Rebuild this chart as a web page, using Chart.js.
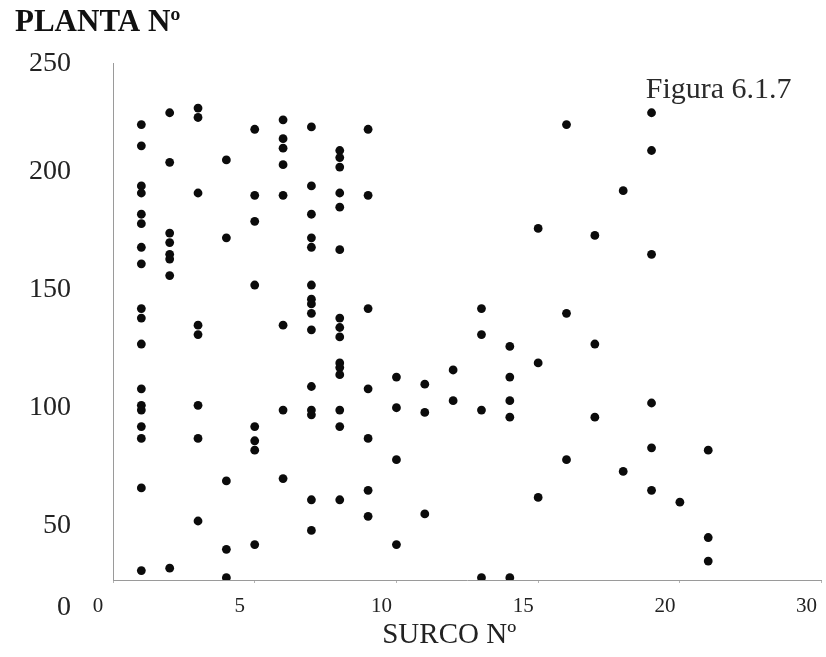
<!DOCTYPE html>
<html lang="es">
<head>
<meta charset="utf-8">
<title>Planta Nº por surco</title>
<script src="https://cdn.jsdelivr.net/npm/chart.js@4.4.1/dist/chart.umd.min.js"></script>
<style>
    html, body { margin: 0; padding: 0; background: #fff; }
    #wrap { width: 826px; height: 657px; position: relative; }
</style>
</head>
<body>
<div id="wrap"><canvas id="plantasChart"></canvas></div>
<script>
// surco number for each column of plants
const surcos = [1, 2, 3, 4, 5, 6, 7, 8, 9, 10, 11, 12, 13, 14, 15, 16, 17, 18, 19, 20, 21];

// plant numbers found in each surco (same order as surcos)
const plantas = [
    [220, 211, 194, 191, 182, 178, 168, 161, 142, 138, 127, 108, 101, 99, 92, 87, 66, 31],
    [225, 204, 174, 170, 165, 163, 156, 32],
    [227, 223, 191, 135, 131, 101, 87, 52],
    [205, 172, 69, 40, 28],
    [218, 190, 179, 152, 92, 86, 82, 42],
    [222, 214, 210, 203, 190, 135, 99, 70],
    [219, 194, 182, 172, 168, 152, 146, 144, 140, 133, 109, 99, 97, 61, 48],
    [209, 206, 202, 191, 185, 167, 138, 134, 130, 119, 117, 114, 99, 92, 61],
    [218, 190, 142, 108, 87, 65, 54],
    [113, 100, 78, 42],
    [110, 98, 55],
    [116, 103],
    [142, 131, 99, 28],
    [126, 113, 103, 96, 28],
    [176, 119, 62],
    [220, 140, 78],
    [173, 127, 96],
    [192, 73],
    [225, 209, 165, 102, 83, 65],
    [60],
    [82, 45, 35]
];

// axis ticks as printed on the figure
const xTickValues = [0, 5, 10, 15, 20, 25];
const xTickLabels = ['0', '5', '10', '15', '20', '30'];
const yTickValues = [27, 50, 100, 150, 200, 246];
const yTickLabels = ['0', '50', '100', '150', '200', '250'];

const serif = '"Liberation Serif", "Times New Roman", serif';

const puntos = surcos.flatMap((s, i) => plantas[i].map(p => ({x: s, y: p})));

// caption in the upper right corner of the plot
const figuraLabel = {
    id: 'figuraLabel',
    afterDraw(chart) {
        const {ctx, chartArea} = chart;
        ctx.save();
        ctx.font = '30px ' + serif;
        ctx.fillStyle = '#2a2a2a';
        ctx.textAlign = 'right';
        ctx.textBaseline = 'middle';
        ctx.fillText('Figura 6.1.7', chartArea.right - 30, chartArea.top + 27);
        ctx.restore();
    }
};

document.addEventListener('DOMContentLoaded', () => {
    const ctx = document.getElementById('plantasChart').getContext('2d');

    new Chart(ctx, {
        type: 'scatter',
        data: {
            datasets: [{
                label: 'Planta',
                data: puntos,
                backgroundColor: '#0b0b0b',
                borderWidth: 0,
                pointRadius: 4.4,
                pointHoverRadius: 4.4
            }]
        },
        options: {
            responsive: true,
            maintainAspectRatio: false,
            animation: false,
            layout: {
                padding: {left: 15, right: 4, top: 0, bottom: 0}
            },
            scales: {
                x: {
                    type: 'linear',
                    min: 0,
                    max: 25,
                    afterBuildTicks: (scale) => {
                        scale.ticks = xTickValues.map(v => ({value: v}));
                    },
                    afterFit: (scale) => {
                        scale.height = 77;
                        scale.paddingLeft = 0;
                        scale.paddingRight = 0;
                    },
                    grid: {
                        display: true,
                        drawOnChartArea: false,
                        drawTicks: true,
                        tickLength: 3,
                        color: '#b5b5b5'
                    },
                    border: {display: true, color: '#9a9a9a', width: 1},
                    ticks: {
                        autoSkip: false,
                        maxRotation: 0,
                        padding: 11,
                        labelOffset: -15,
                        color: '#222',
                        font: {family: serif, size: 21},
                        callback: (value, index) => xTickLabels[index]
                    },
                    title: {
                        display: true,
                        // trailing spaces pull the centred title a little to the left
                        text: 'SURCO Nº     ',
                        color: '#222',
                        font: {family: serif, size: 29},
                        padding: {top: 0, bottom: 4}
                    }
                },
                y: {
                    type: 'linear',
                    min: 27,
                    max: 246,
                    afterBuildTicks: (scale) => {
                        scale.ticks = yTickValues.map(v => ({value: v}));
                    },
                    afterFit: (scale) => {
                        scale.width = 98;
                        scale.paddingTop = 0;
                        scale.paddingBottom = 0;
                    },
                    grid: {display: false, drawTicks: false},
                    border: {display: true, color: '#9a9a9a', width: 1},
                    ticks: {
                        autoSkip: false,
                        padding: 42,
                        color: '#222',
                        font: {family: serif, size: 28, lineHeight: 1},
                        callback: (value, index) => {
                            const text = yTickLabels[index];
                            // the zero is printed down on the row of the x labels
                            return index === 0 ? ['', '', text] : text;
                        }
                    }
                }
            },
            plugins: {
                legend: {display: false},
                tooltip: {enabled: false},
                title: {
                    display: true,
                    text: 'PLANTA Nº',
                    align: 'start',
                    color: '#111',
                    font: {family: serif, size: 31, weight: 'bold', lineHeight: 1.2},
                    padding: {top: 4, bottom: 22}
                }
            }
        },
        plugins: [figuraLabel]
    });
});
</script>
</body>
</html>
